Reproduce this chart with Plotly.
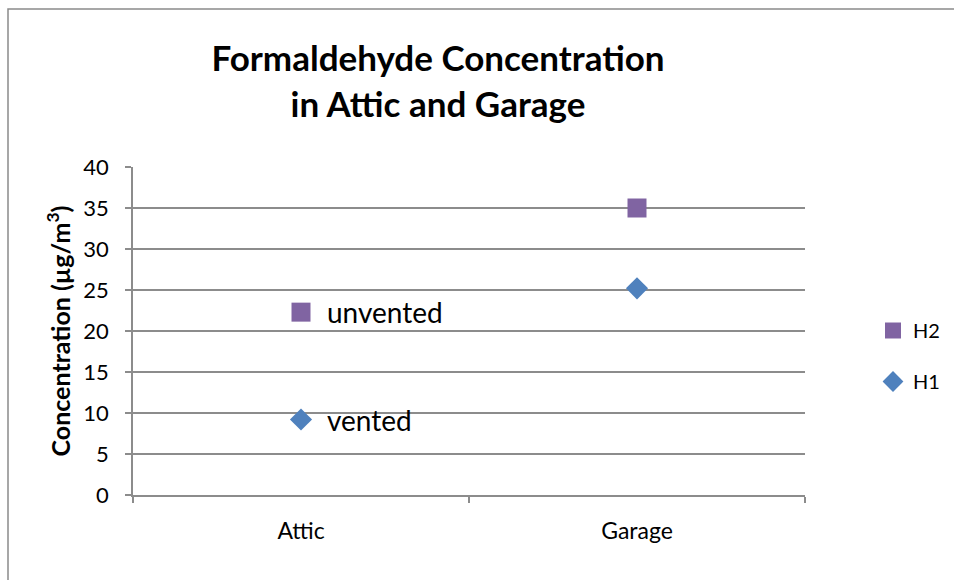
import plotly.graph_objects as go

# Sampling locations and measured formaldehyde levels (µg/m³)
locations = ["Attic", "Garage"]
h1_values = [9.2, 25.2]
h2_values = [22.3, 35.0]
# Point labels, keyed by location index
h1_point_labels = {0: "vented"}
h2_point_labels = {0: "unvented"}
y_ticks = [0, 5, 10, 15, 20, 25, 30, 35, 40]

FONT = "Lato, Calibri, Carlito, sans-serif"
GRID = "#8c8c8c"

fig = go.Figure()

fig.add_trace(go.Scatter(
    x=locations, y=h2_values, name="H2", mode="markers",
    marker=dict(symbol="square", size=19, color="#8064A2"),
    legendgroup="h2", legendrank=1,
))
fig.add_trace(go.Scatter(
    x=locations, y=h1_values, name="H1", mode="markers",
    marker=dict(symbol="diamond", size=17, color="#4F81BD"),
    legendgroup="h1", legendrank=2,
))

for labels, values in ((h2_point_labels, h2_values), (h1_point_labels, h1_values)):
    for i, txt in labels.items():
        fig.add_annotation(
            x=locations[i], y=values[i], text=txt, showarrow=False,
            xanchor="left", yanchor="middle", xshift=24,
            font=dict(size=28, family=FONT, color="#000000"),
        )

W, H = 954, 580
L, R, T, B = 133, 149, 167, 85
pw, ph = W - L - R, H - T - B

def px_x(p):
    return (p - L) / pw

def px_y(p):
    return (H - B - p) / ph

# Outer chart frame
fig.add_shape(type="rect", xref="paper", yref="paper",
              x0=px_x(8), x1=px_x(970), y0=px_y(9), y1=px_y(600),
              line=dict(color="#8a8a8a", width=1.5), fillcolor="rgba(0,0,0,0)",
              layer="below")

fig.update_layout(
    width=W, height=H,
    margin=dict(l=L, r=R, t=T, b=B, pad=0, autoexpand=False),
    paper_bgcolor="white", plot_bgcolor="white",
    font=dict(family=FONT, color="#000000"),
    title=dict(
        text="<b>Formaldehyde Concentration<br>in Attic and Garage</b>",
        x=438 / W, xref="container", xanchor="center",
        y=1 - 71 / H, yref="container", yanchor="top",
        font=dict(size=35, family=FONT, color="#000000"),
    ),
    showlegend=True,
    legend=dict(
        x=873 / W, y=1 - 311 / H, xref="container", yref="container",
        xanchor="left", yanchor="top",
        traceorder="grouped", tracegroupgap=22,
        font=dict(size=20, family=FONT, color="#000000"),
        itemwidth=30, bgcolor="rgba(0,0,0,0)",
    ),
    xaxis=dict(
        type="category", range=[-0.5, 1.5], tickson="boundaries",
        ticks="outside", ticklen=6, tickcolor=GRID, tickwidth=1.5,
        showline=True, linecolor=GRID, linewidth=1.5,
        showgrid=False, zeroline=False,
        tickfont=dict(size=23, family=FONT, color="#000000"),
        ticklabelstandoff=15,
    ),
    yaxis=dict(
        range=[0, 40], tickvals=y_ticks,
        ticks="outside", ticklen=6, tickcolor=GRID, tickwidth=1.5,
        showline=True, linecolor=GRID, linewidth=1.5,
        showgrid=True, gridcolor=GRID, gridwidth=1.5, zeroline=False,
        tickfont=dict(size=22, family=FONT, color="#000000"),
        ticklabelstandoff=12,
        title=dict(text="<b>Concentration (µg/m<sup>3</sup>)</b>",
                   font=dict(size=25, family=FONT, color="#000000"),
                   standoff=6),
    ),
)

fig.write_html("out.html")
